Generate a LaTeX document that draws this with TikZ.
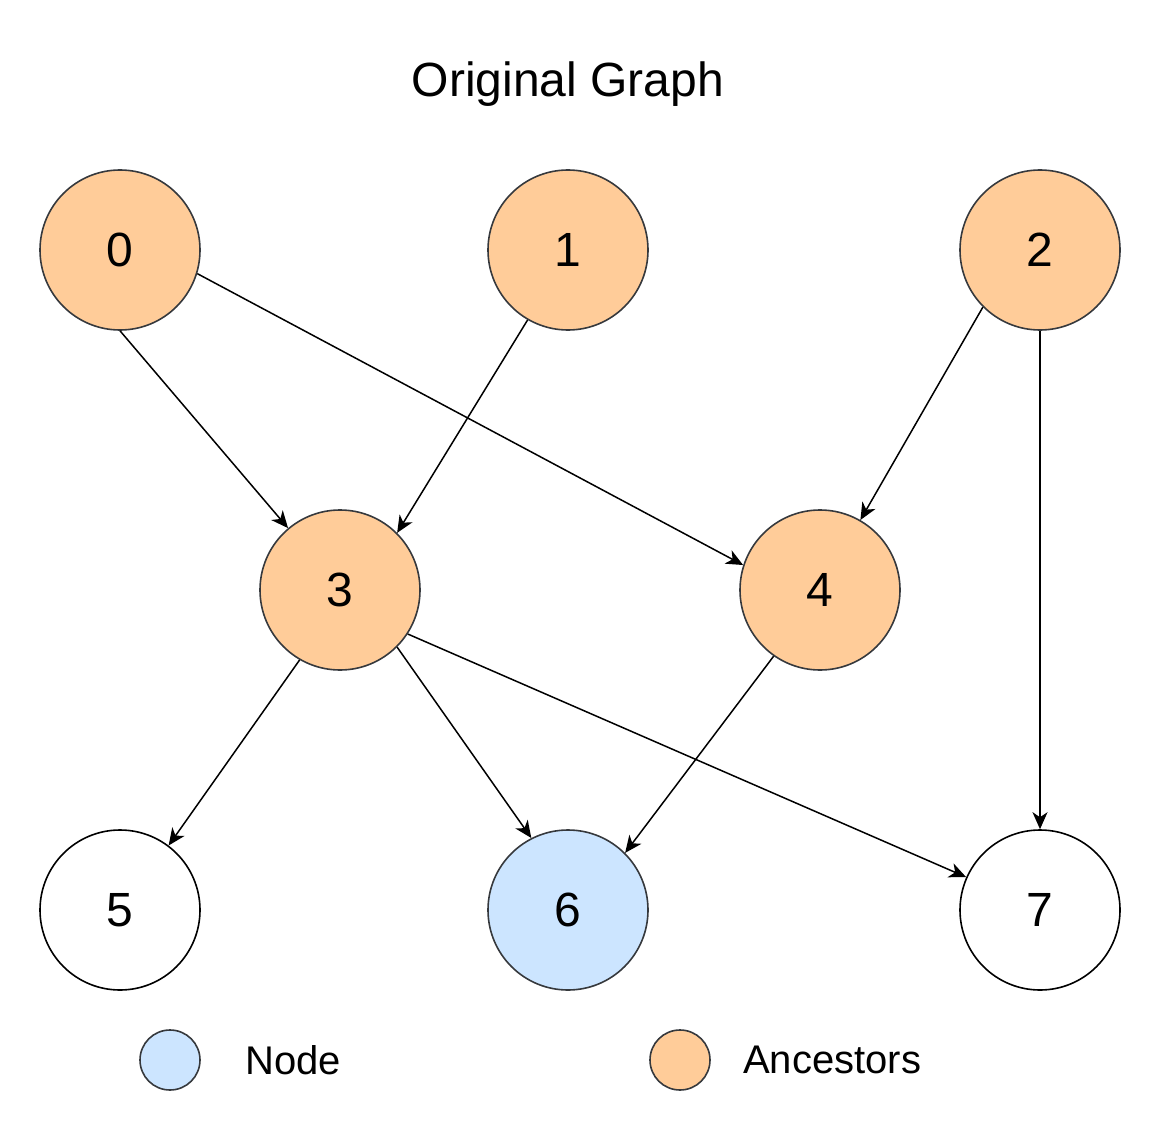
\documentclass[tikz,border=0pt]{standalone}
\usepackage{fontspec}
\setmainfont{Liberation Sans}
\usepackage{tikz}
\usetikzlibrary{arrows.meta}
\definecolor{ancfill}{HTML}{FFCC99}
\definecolor{nodefill}{HTML}{CCE5FF}
\definecolor{rim}{HTML}{36393D}

\begin{document}
\begin{tikzpicture}[x=1pt,y=-1pt,
    vertex/.style={circle,draw=rim,line width=1.6pt,minimum size=160pt,inner sep=0pt,font=\fontsize{48}{56}\selectfont},
    keydot/.style={circle,draw=rim,line width=1.6pt,minimum size=60pt,inner sep=0pt},
    keytext/.style={anchor=west,inner sep=0pt,font=\fontsize{40}{48}\selectfont},
    edge/.style={line width=1.5pt,-{Stealth[length=17pt,width=15pt,inset=5pt]}}]
    \useasboundingbox (0,0) rectangle (1162,1142);

    \node[anchor=base,font=\fontsize{48}{56}\selectfont] (title) at (568,97) {Original Graph};

    \foreach \n/\x/\y/\c/\d in {0/120/250/ancfill/rim, 1/568/250/ancfill/rim, 2/1040/250/ancfill/rim,
        3/340/590/ancfill/rim, 4/820/590/ancfill/rim,
        5/120/910/white/black, 6/568/910/nodefill/rim, 7/1040/910/white/black}
    {
        \node[vertex,fill=\c,draw=\d] (v\n) at (\x,\y) {\n};
    }

    \foreach \s/\t in {0.-90/3.130, 0.-17/4.162, 1.-120/3.45, 2.-135/4.60, 2.-90/7.90,
        3.-120/5.53, 3.-45/6.117, 3.-33/7.156, 4.-125/6.45}
    {
        \draw[edge] (v\s) -- (v\t);
    }

    \node[keydot,fill=nodefill] (keynode) at (170,1060) {};
    \node[keytext] (keynodetext) at (245,1060) {Node};
    \node[keydot,fill=ancfill] (keyanc) at (680,1060) {};
    \node[keytext] (keyanctext) at (743,1060) {Ancestors};
\end{tikzpicture}
\end{document}
